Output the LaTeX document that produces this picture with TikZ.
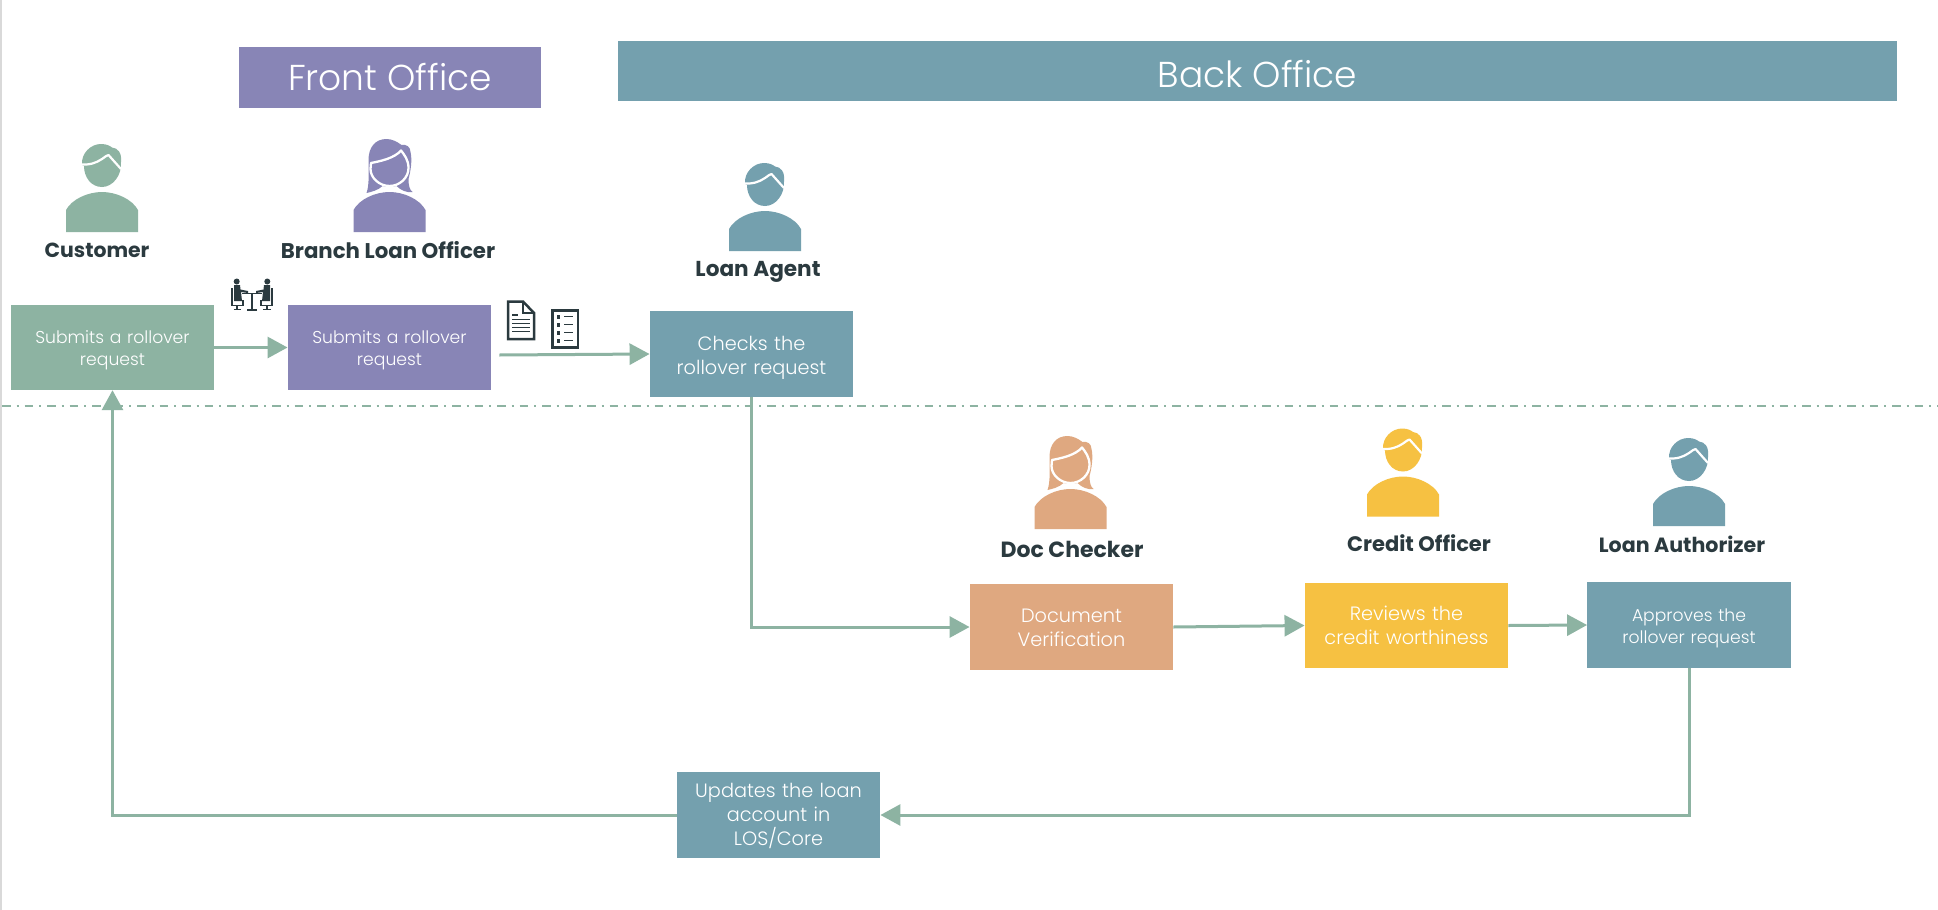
\documentclass[tikz,border=0pt]{standalone}
\usepackage{fontspec}
\setmainfont{Poppins}
\newfontfamily\plight{Poppins Light}
\usetikzlibrary{arrows.meta,calc}
\definecolor{cGreen}{HTML}{8DB3A2}
\definecolor{cPurple}{HTML}{8885B6}
\definecolor{cTeal}{HTML}{74A0AE}
\definecolor{cOrange}{HTML}{DFA880}
\definecolor{cYellow}{HTML}{F6C142}
\definecolor{cDark}{HTML}{2B3A3F}
\tikzset{
  banner/.style={fill=#1,draw=none,text=white,anchor=center,inner sep=0pt,font=\plight\fontsize{36}{40}\selectfont},
  stepbox/.style={fill=#1,draw=none,text=white,anchor=center,inner sep=0pt,minimum width=203.5pt,align=center,text width=200pt},
  small/.style={font=\plight\fontsize{17.2}{22}\selectfont},
  mid/.style={font=\plight\fontsize{19.3}{24}\selectfont},
  nudge/.style={execute at begin node={\rule{0pt}{#1}}},
  who/.style={text=cDark,anchor=center,inner sep=0pt,font=\bfseries\fontsize{#1}{24}\selectfont},
  flow/.style={draw=cGreen,line width=3pt,-{Triangle[length=20pt,width=21pt,fill=cGreen]}},
  man/.pic={
    \fill[#1] (-36,0) -- (-36,-22) .. controls (-30,-33) and (-14,-40) .. (0,-40)
      .. controls (14,-40) and (30,-33) .. (36,-22) -- (36,0) -- cycle;
    \fill[#1] (-20,-67) .. controls (-21,-79) and (-11,-88) .. (-1,-88)
      .. controls (5,-88) and (8,-86) .. (10,-84.5)
      .. controls (16,-84) and (20,-79) .. (19,-70)
      .. controls (20,-57) and (11,-45) .. (0,-45)
      .. controls (-11,-45) and (-18,-55) .. (-18,-66) -- cycle;
    \draw[white,line width=2.2pt,line join=round] (-21,-67.5) .. controls (-12,-67) and (-6,-69) .. (0,-73)
      .. controls (3,-75) and (5,-77) .. (6.5,-77) -- (19,-63);
  },
  woman/.pic={
    \fill[#1] (-36,0) -- (-36,-22) .. controls (-30,-33) and (-14,-40) .. (0,-40)
      .. controls (14,-40) and (30,-33) .. (36,-22) -- (36,0) -- cycle;
    \fill[#1] (-23,-39) .. controls (-20,-47) and (-21,-60) .. (-21,-72)
      .. controls (-21,-85) and (-14,-93) .. (-3,-93)
      .. controls (3,-93) and (8,-90) .. (12,-87)
      .. controls (17,-88) and (21,-85) .. (21,-80)
      .. controls (23,-72) and (21,-60) .. (19,-53)
      .. controls (19,-47) and (20,-42) .. (23,-40)
      .. controls (17,-39) and (11,-42) .. (7,-46)
      .. controls (3,-45) and (-3,-45) .. (-7,-46)
      .. controls (-11,-42) and (-18,-40) .. (-23,-39) -- cycle;
    \draw[white,line width=2.3pt,line join=round] (-18.5,-69)
      .. controls (-8,-71) and (5,-74) .. (11.5,-81.5)
      .. controls (15,-77) and (19,-72) .. (19,-64)
      .. controls (19,-54) and (10,-46) .. (0,-46)
      .. controls (-10,-46) and (-19,-54) .. (-19,-63) -- (-18.5,-69) -- cycle;
  },
  halfmeet/.pic={
    \fill[cDark] (-15.3,-13.5) circle (3);
    \fill[cDark] (-18,-10) -- (-12,-10) -- (-11.5,-5.5) -- (-4,-4) -- (-4,-2) -- (-11,-3) -- (-10,6) -- (-18,6) -- cycle;
    \draw[cDark,line width=1.7pt] (-20.2,-7) -- (-20.2,10.5) -- (-9,10.5) -- (-9,5);
    \draw[cDark,line width=1.7pt] (-15,10.5) -- (-15,14.5) (-18.5,14.5) -- (-11,14.5);
    \draw[cDark,line width=1.5pt] (-10,-1.7) -- (0,-1.7);
    \draw[cDark,line width=2pt] (0,-1.7) -- (0,14.5) (-5,14.5) -- (0,14.5);
  },
}
\begin{document}
\begin{tikzpicture}[x=1pt,y=-1pt]
\useasboundingbox (0,0) rectangle (1938,910);
\fill[white] (0,0) rectangle (1938,910);
\fill[black!15] (0,0) rectangle (2,910);

% divider
\coordinate (divL) at (2,406);
\coordinate (divR) at (1938,406);
\draw[cGreen,line width=1.8pt,dash pattern=on 8.5pt off 6pt on 2pt off 6pt] (divL) -- (divR);

% banners
\node[banner=cPurple,minimum width=302pt,minimum height=60.5pt] (front) at (390,77.5) {Front Office};
\node[banner=cTeal,minimum width=1279pt,minimum height=60pt] (back) at (1257.5,71) {\rule{0pt}{34pt}Back Office};

% boxes
\node[stepbox=cGreen,small,nudge=18pt,minimum height=85pt] (cust) at (112.5,347.5) {Submits a rollover\\request};
\node[stepbox=cPurple,small,nudge=18pt,minimum height=85pt] (branch) at (389.5,347.5) {Submits a rollover\\request};
\node[stepbox=cTeal,mid,nudge=21pt,minimum height=86pt] (agent) at (751.5,354) {Checks the\\rollover request};
\node[stepbox=cOrange,mid,nudge=16pt,minimum height=86.5pt] (doc) at (1071.5,627) {Document\\Verification};
\node[stepbox=cYellow,mid,minimum height=85.5pt] (credit) at (1406.5,625.5) {Reviews the\\credit worthiness};
\node[stepbox=cTeal,small,nudge=19pt,minimum height=86pt] (auth) at (1689,625) {Approves the\\rollover request};
\node[stepbox=cTeal,mid,nudge=17pt,minimum height=86pt] (upd) at (778.5,815) {Updates the loan\\account in\\LOS/Core};

% people
\pic at (102,232) {man=cGreen};
\pic at (389.5,232) {woman=cPurple};
\pic at (765,251) {man=cTeal};
\pic at (1070.5,529) {woman=cOrange};
\pic at (1403,516.5) {man=cYellow};
\pic at (1689,526) {man=cTeal};

% names
\node[who=20.4] (nCust) at (97,250) {Customer};
\node[who=21.3] (nBranch) at (388,250) {Branch Loan Officer};
\node[who=21.6] (nAgent) at (758,271.5) {Loan Agent};
\node[who=22] (nDoc) at (1072,549) {Doc Checker};
\node[who=21] (nCredit) at (1419,543) {Credit Officer};
\node[who=20.6] (nAuth) at (1682,544) {Loan Authorizer};

% connectors
\draw[flow] (cust.east) -- (branch.west);
\draw[flow] ([xshift=8pt,yshift=-7.5pt]branch.east) -- (agent.west);
\draw[flow] (agent.south) |- (doc.west);
\draw[flow] (doc.east) -- (credit.west);
\draw[flow] (credit.east) -- (auth.west);
\draw[flow] (auth.south) |- (upd.east);
\draw[flow] (upd.west) -| (cust.south);

% meeting icon
\pic at (252,295) {halfmeet};
\begin{scope}[shift={(252,295)},xscale=-1]
\pic[transform shape] at (0,0) {halfmeet};
\end{scope}

% document icon
\draw[cDark,line width=2.5pt,fill=white,line join=miter] (508,301.5) -- (523,301.5) -- (534,313) -- (534,339) -- (508,339) -- cycle;
\draw[cDark,line width=2pt] (523,301.5) -- (523,313) -- (534,313);
\draw[cDark,line width=1.5pt] (512,315) -- (518,315) (512,319.3) -- (530,319.3) (512,323.3) -- (530,323.3) (512,327.3) -- (530,327.3) (512,331.7) -- (530,331.7);

% checklist icon
\draw[cDark,line width=2.5pt,fill=white] (552.5,310.5) rectangle (578,347.5);
\foreach \yy in {316.7,324.7,332.7,340.7}{
  \fill[cDark] (556.7,\yy-1.8) rectangle (560.2,\yy+1.8);
  \draw[cDark,line width=1.5pt] (564,\yy) -- (573.3,\yy);
}
\end{tikzpicture}
\end{document}
